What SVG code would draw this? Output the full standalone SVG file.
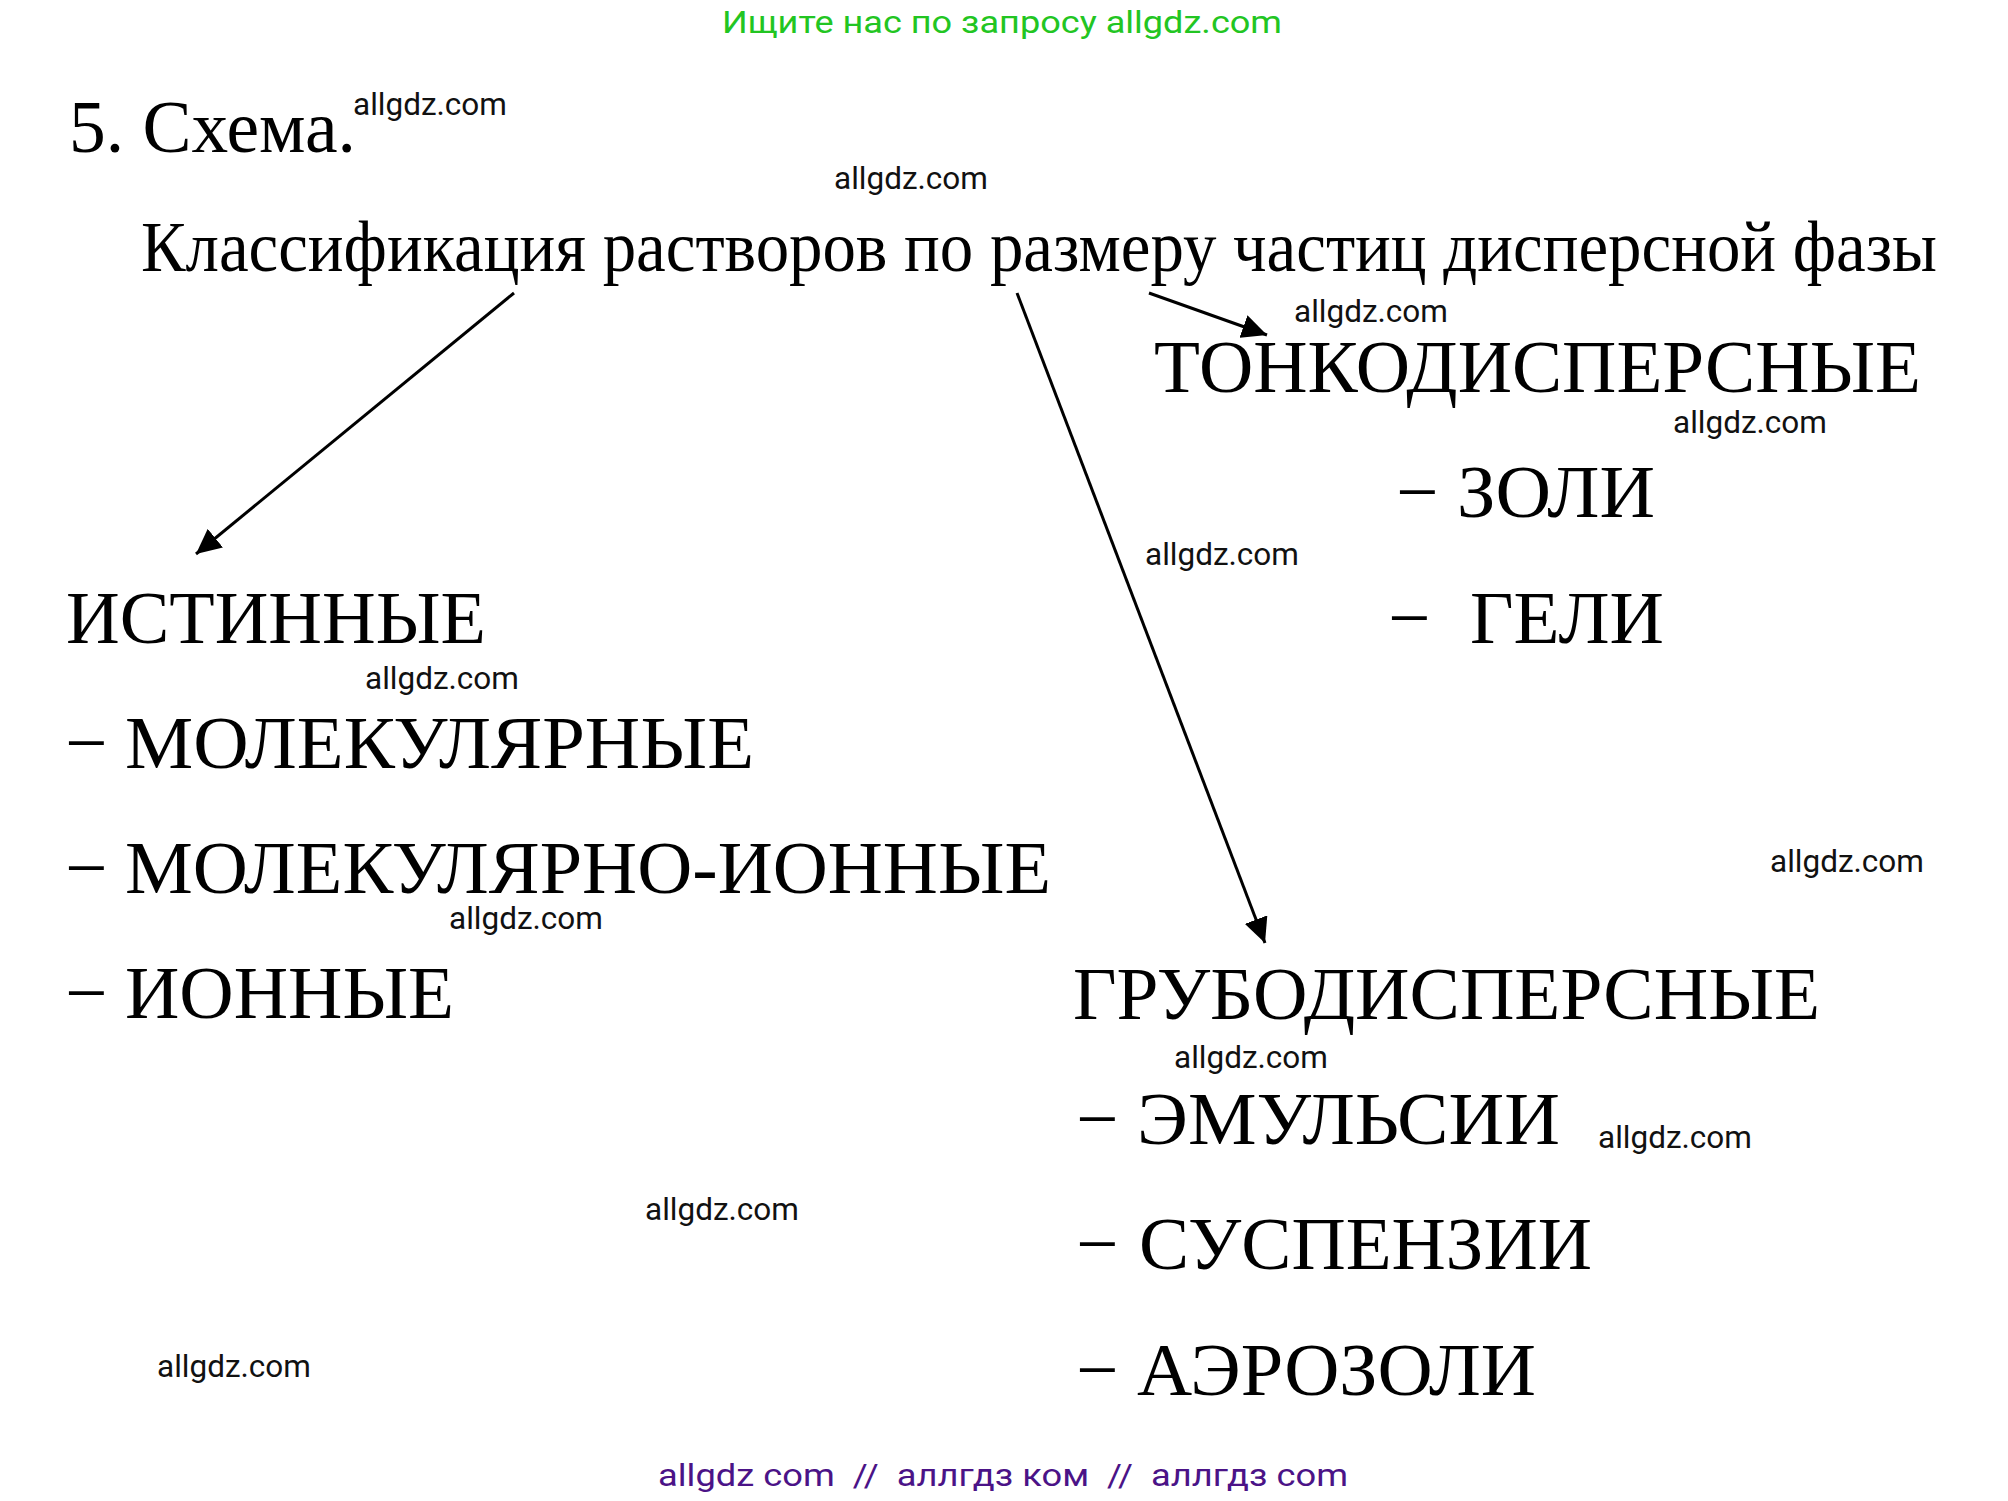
<svg xmlns="http://www.w3.org/2000/svg" width="2008" height="1501" viewBox="0 0 2008 1501">
<defs>
<style>
.t{font-family:"Liberation Serif","Times New Roman",serif;fill:#000;font-size:75px}
.ttl{font-family:"Liberation Serif","Times New Roman",serif;fill:#000;font-size:71px}
.wm{font-family:Roboto,"Liberation Sans",sans-serif;fill:#111;font-size:31.5px}
.hdr{font-family:Roboto,"Liberation Sans",sans-serif;fill:#22c522;font-size:32px}
.ftr{font-family:Roboto,"Liberation Sans",sans-serif;fill:#4b1387;font-size:31px;white-space:pre}
.con{stroke:#000;stroke-width:3;fill:none}
</style>
<marker id="ah" markerUnits="userSpaceOnUse" markerWidth="26" markerHeight="24" refX="25" refY="12" orient="auto">
<path d="M0,0 L25,12 L0,24 Z" fill="#000"/>
</marker>
</defs>
<rect width="2008" height="1501" fill="#fff"/>

<text class="hdr" x="722" y="33" textLength="560" lengthAdjust="spacingAndGlyphs">Ищите нас по запросу allgdz.com</text>

<text class="t" x="69" y="152" font-size="74" textLength="287" lengthAdjust="spacingAndGlyphs">5. Схема.</text>

<g id="title">
<text class="ttl" x="141" y="271" textLength="1796" lengthAdjust="spacingAndGlyphs">Классификация растворов по размеру частиц дисперсной фазы</text>
</g>

<g id="connectors">
<line class="con" x1="514" y1="293" x2="196" y2="554" marker-end="url(#ah)"/>
<line class="con" x1="1017" y1="293" x2="1265" y2="943" marker-end="url(#ah)"/>
<line class="con" x1="1149" y1="293" x2="1267" y2="335" marker-end="url(#ah)"/>
</g>

<g id="node-tonko">
<text class="t" x="1154" y="392" textLength="767" lengthAdjust="spacingAndGlyphs">ТОНКОДИСПЕРСНЫЕ</text>
<text class="t" y="517"><tspan x="1396">−</tspan><tspan x="1457" textLength="198" lengthAdjust="spacingAndGlyphs">ЗОЛИ</tspan></text>
<text class="t" y="643"><tspan x="1388">−</tspan><tspan x="1470" textLength="194" lengthAdjust="spacingAndGlyphs">ГЕЛИ</tspan></text>
</g>

<g id="node-istinnye">
<text class="t" x="66" y="643" textLength="420" lengthAdjust="spacingAndGlyphs">ИСТИННЫЕ</text>
<text class="t" y="768"><tspan x="65">−</tspan><tspan x="125" textLength="629" lengthAdjust="spacingAndGlyphs">МОЛЕКУЛЯРНЫЕ</tspan></text>
<text class="t" y="893"><tspan x="65">−</tspan><tspan x="125" textLength="926" lengthAdjust="spacingAndGlyphs">МОЛЕКУЛЯРНО-ИОННЫЕ</tspan></text>
<text class="t" y="1018"><tspan x="65">−</tspan><tspan x="125" textLength="329" lengthAdjust="spacingAndGlyphs">ИОННЫЕ</tspan></text>
</g>

<g id="node-grubo">
<text class="t" x="1073" y="1019" textLength="747" lengthAdjust="spacingAndGlyphs">ГРУБОДИСПЕРСНЫЕ</text>
<text class="t" y="1144"><tspan x="1076">−</tspan><tspan x="1137" textLength="423" lengthAdjust="spacingAndGlyphs">ЭМУЛЬСИИ</tspan></text>
<text class="t" y="1269"><tspan x="1076">−</tspan><tspan x="1139" textLength="453" lengthAdjust="spacingAndGlyphs">СУСПЕНЗИИ</tspan></text>
<text class="t" y="1395"><tspan x="1076">−</tspan><tspan x="1137" textLength="399" lengthAdjust="spacingAndGlyphs">АЭРОЗОЛИ</tspan></text>
</g>

<g id="watermarks">
<text class="wm" x="353" y="115">allgdz.com</text>
<text class="wm" x="834" y="189">allgdz.com</text>
<text class="wm" x="1294" y="322">allgdz.com</text>
<text class="wm" x="1673" y="433">allgdz.com</text>
<text class="wm" x="1145" y="565">allgdz.com</text>
<text class="wm" x="365" y="689">allgdz.com</text>
<text class="wm" x="1770" y="872">allgdz.com</text>
<text class="wm" x="449" y="929">allgdz.com</text>
<text class="wm" x="1174" y="1068">allgdz.com</text>
<text class="wm" x="1598" y="1148">allgdz.com</text>
<text class="wm" x="645" y="1220">allgdz.com</text>
<text class="wm" x="157" y="1377">allgdz.com</text>
</g>

<text class="ftr" x="658" y="1486" textLength="690" lengthAdjust="spacingAndGlyphs">allgdz com  //  аллгдз ком  //  аллгдз com</text>
</svg>
